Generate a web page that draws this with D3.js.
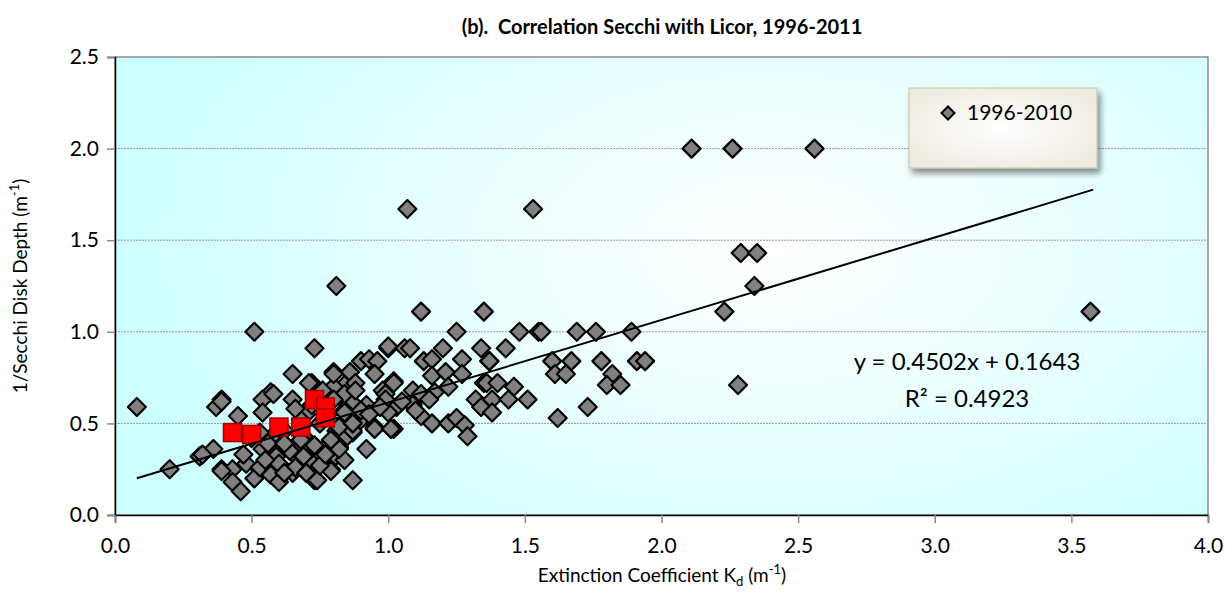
<!DOCTYPE html>
<html>
<head>
<meta charset="utf-8">
<script src="https://cdn.jsdelivr.net/npm/d3@7"></script>
<style>
  body { margin: 0; background: #fff; }
  svg { font-family: Lato, 'Open Sans', sans-serif; }
</style>
</head>
<body>
<svg id="chart"></svg>
<script>
// Kd (x) and 1/Secchi (y) for 1996-2010
const kd = [
  0.51, 0.08, 0.73, 0.65, 0.72, 0.57, 0.54, 0.65, 0.39, 0.37, 0.39, 0.54, 0.45, 0.31, 0.36, 0.20,
  0.48, 0.39, 0.43, 0.43, 0.46, 0.53, 0.57, 0.60, 0.65, 0.65, 0.62, 0.68, 0.73, 0.54, 0.57, 0.51,
  0.69, 0.73, 0.57, 0.62,
  0.81, 1.12, 1.35, 1.25, 1.00, 1.06, 1.08, 1.20, 1.34, 0.90, 0.93, 0.96, 1.13, 1.16, 1.27, 1.37,
  0.80, 0.86, 0.95, 1.16, 1.21, 1.27, 1.02, 1.35, 0.84, 0.88, 0.98, 1.09, 0.82, 0.99, 1.12, 1.17,
  1.22, 1.32, 1.38, 0.87, 0.92, 1.03, 1.09, 1.15, 1.34, 1.38, 0.84, 1.00, 1.12, 1.16, 1.22, 1.25,
  1.28, 1.29, 0.95, 1.02, 0.87, 0.92, 0.82, 0.78, 0.74, 0.80, 0.87, 0.74, 0.71, 0.84, 0.79, 0.86,
  0.90, 0.81, 0.80, 0.76,
  1.48, 1.55, 1.56, 1.69, 1.76, 1.89, 1.43, 1.37, 1.60, 1.67, 1.78, 1.91, 1.94, 1.61, 1.65, 1.82,
  1.80, 1.85, 1.36, 1.40, 1.46, 1.44, 1.51, 1.73, 1.62,
  2.29, 2.35, 2.34, 2.23, 2.28, 2.11, 2.26, 1.07, 1.53, 2.56, 3.57,
  0.39, 0.53, 0.79, 0.82, 0.69, 0.64, 0.59, 0.56, 0.62, 0.68, 0.79, 0.85, 0.95, 1.01, 0.87, 0.82,
  0.73, 0.53, 0.32, 0.58, 0.71, 0.80, 1.00, 0.84, 0.88, 0.90, 1.02, 0.99, 0.84, 0.87, 0.80,
  0.60, 0.66, 0.70, 0.75, 0.77, 0.62, 0.55, 0.47, 0.50, 0.70, 0.75, 0.78, 0.72, 0.68, 0.66, 0.93,
  0.97, 1.05, 1.10
]
const invSecchi = [
  1.00, 0.59, 0.91, 0.77, 0.72, 0.67, 0.63, 0.63, 0.63, 0.59, 0.62, 0.56, 0.54, 0.32, 0.36, 0.25,
  0.28, 0.25, 0.25, 0.18, 0.13, 0.25, 0.22, 0.18, 0.23, 0.34, 0.38, 0.37, 0.19, 0.36, 0.32, 0.20,
  0.43, 0.32, 0.42, 0.46,
  1.25, 1.11, 1.11, 1.00, 0.91, 0.91, 0.91, 0.91, 0.91, 0.84, 0.85, 0.84, 0.84, 0.85, 0.85, 0.84,
  0.78, 0.78, 0.77, 0.76, 0.78, 0.77, 0.73, 0.72, 0.71, 0.72, 0.68, 0.68, 0.65, 0.66, 0.66, 0.67,
  0.70, 0.63, 0.63, 0.61, 0.60, 0.59, 0.60, 0.63, 0.59, 0.56, 0.57, 0.56, 0.54, 0.50, 0.50, 0.53,
  0.49, 0.43, 0.48, 0.47, 0.45, 0.36, 0.37, 0.38, 0.34, 0.31, 0.19, 0.19, 0.30, 0.30, 0.25, 0.50,
  0.52, 0.46, 0.70, 0.68,
  1.00, 1.00, 1.00, 1.00, 1.00, 1.00, 0.91, 0.84, 0.84, 0.84, 0.84, 0.84, 0.84, 0.77, 0.77, 0.77,
  0.71, 0.71, 0.72, 0.72, 0.70, 0.63, 0.63, 0.59, 0.53,
  1.43, 1.43, 1.25, 1.11, 0.71, 2.00, 2.00, 1.67, 1.67, 2.00, 1.11,
  0.24, 0.26, 0.24, 0.36, 0.32, 0.35, 0.32, 0.39, 0.39, 0.41, 0.41, 0.43, 0.47, 0.47, 0.46, 0.48,
  0.38, 0.45, 0.33, 0.66, 0.72, 0.77, 0.92, 0.66, 0.68, 0.57, 0.72, 0.63, 0.56, 0.50, 0.63,
  0.28, 0.26, 0.23, 0.27, 0.33, 0.23, 0.30, 0.33, 0.42, 0.55, 0.50, 0.55, 0.60, 0.52, 0.58, 0.55,
  0.59, 0.62, 0.57
]
// 2011 points (red squares)
const kd2011 = [0.43, 0.50, 0.60, 0.68, 0.73, 0.77, 0.77]
const invSecchi2011 = [0.45, 0.44, 0.48, 0.48, 0.63, 0.59, 0.53]

const slope = 0.4502
const intercept = 0.1643
const fitRange = [0.08, 3.58]

const xTicks = [0, 0.5, 1, 1.5, 2, 2.5, 3, 3.5, 4]
const yTicks = [0, 0.5, 1, 1.5, 2, 2.5]

const margin = { top: 57, left: 115, right: 17, bottom: 78 }
const W = 1225
const H = 593
const width = W - margin.left - margin.right
const height = H - margin.top - margin.bottom

const root = d3.select('#chart').attr('width', W).attr('height', H)
const defs = root.append('defs')

const bg = defs.append('radialGradient')
  .attr('id', 'bgGrad')
  .attr('cx', 0.6).attr('cy', 0.42).attr('r', 0.62)
  .attr('gradientTransform', 'translate(0.6,0.42) scale(1,1.4) translate(-0.6,-0.42)')
bg.append('stop').attr('offset', 0).attr('stop-color', '#ffffff')
bg.append('stop').attr('offset', 0.3).attr('stop-color', '#f2ffff')
bg.append('stop').attr('offset', 1).attr('stop-color', '#ccffff')

const lg = defs.append('radialGradient').attr('id', 'legGrad').attr('cx', 0.5).attr('cy', 0.5).attr('r', 0.7)
lg.append('stop').attr('offset', 0).attr('stop-color', '#ffffff')
lg.append('stop').attr('offset', 1).attr('stop-color', '#ece8dc')

const shadow = defs.append('filter').attr('id', 'shadow').attr('x', -0.2).attr('y', -0.2).attr('width', 1.4).attr('height', 1.5)
shadow.append('feGaussianBlur').attr('in', 'SourceAlpha').attr('stdDeviation', 3)
shadow.append('feOffset').attr('dx', 3).attr('dy', 5).attr('result', 'blur')
shadow.append('feComponentTransfer').append('feFuncA').attr('type', 'linear').attr('slope', 0.45)
const merge = shadow.append('feMerge')
merge.append('feMergeNode')
merge.append('feMergeNode').attr('in', 'SourceGraphic')

const svg = root.append('g').attr('transform', `translate(${margin.left},${margin.top})`)

const x = d3.scaleLinear().domain([0, 4]).range([0, width])
const y = d3.scaleLinear().domain([0, 2.5]).range([height, 0])

// plot area
svg.append('rect')
  .attr('width', width).attr('height', height)
  .attr('fill', 'url(#bgGrad)')
  .attr('stroke', '#555').attr('stroke-width', 1)

// gridlines
svg.append('g')
  .selectAll('line')
  .data(yTicks.filter(d => d > 0 && d < 2.5))
  .join('line')
  .attr('x1', 0).attr('x2', width)
  .attr('y1', d => y(d)).attr('y2', d => y(d))
  .attr('stroke', '#999').attr('stroke-width', 1).attr('stroke-dasharray', '2,1')

// axes
const yAxis = svg.append('g')
  .call(d3.axisLeft(y).tickValues(yTicks).tickFormat(d3.format('.1f')).tickSize(8).tickPadding(8))
const xAxis = svg.append('g')
  .attr('transform', `translate(0,${height})`)
  .call(d3.axisBottom(x).tickValues(xTicks).tickFormat(d3.format('.1f')).tickSize(8).tickPadding(15))
;[xAxis, yAxis].forEach(a => {
  a.select('.domain').attr('stroke', '#000').attr('stroke-width', 1.5)
  a.selectAll('.tick line').attr('stroke', '#888').attr('stroke-width', 1.5)
  a.selectAll('.tick text').attr('font-size', 21).attr('font-family', 'Lato').attr('fill', '#000')
})

// 1996-2010 diamonds
const pts = kd.map((k, i) => ({ x: k, y: invSecchi[i] }))
const diamond = r => `M0,${-r}L${r},0L0,${r}L${-r},0Z`
svg.append('g')
  .selectAll('path')
  .data(pts)
  .join('path')
  .attr('d', diamond(9))
  .attr('transform', d => `translate(${x(d.x)},${y(d.y)})`)
  .attr('fill', '#808080')
  .attr('stroke', '#000')
  .attr('stroke-width', 2.2)
  .attr('stroke-linejoin', 'round')

// 2011 squares
const pts11 = kd2011.map((k, i) => ({ x: k, y: invSecchi2011[i] }))
svg.append('g')
  .selectAll('rect')
  .data(pts11)
  .join('rect')
  .attr('x', d => x(d.x) - 9).attr('y', d => y(d.y) - 9)
  .attr('width', 18).attr('height', 18)
  .attr('fill', '#ff0000')
  .attr('stroke', '#a00000')
  .attr('stroke-width', 1.5)

// trend line
svg.append('path')
  .datum(fitRange.map(v => ({ x: v, y: slope * v + intercept })))
  .attr('d', d3.line().x(d => x(d.x)).y(d => y(d.y)))
  .attr('stroke', '#000').attr('stroke-width', 2).attr('fill', 'none')

// equation
const eq = svg.append('text').attr('text-anchor', 'middle').attr('font-size', 24).attr('fill', '#000')
eq.append('tspan').attr('x', 852).attr('y', 313).text('y = 0.4502x + 0.1643')
eq.append('tspan').attr('x', 852).attr('y', 350).text('R² = 0.4923')

// legend
const leg = svg.append('g').attr('transform', 'translate(794,31)')
leg.append('rect')
  .attr('width', 188).attr('height', 80)
  .attr('fill', 'url(#legGrad)').attr('stroke', '#c9c2a6').attr('stroke-width', 1)
  .attr('filter', 'url(#shadow)')
leg.append('path').attr('d', diamond(6.5)).attr('transform', 'translate(39,25)')
  .attr('fill', '#808080').attr('stroke', '#000').attr('stroke-width', 2)
leg.append('text').attr('x', 58).attr('y', 32).attr('font-size', 21).text('1996-2010')

// titles
root.append('text')
  .attr('x', 662).attr('y', 34)
  .attr('text-anchor', 'middle').attr('font-size', 20).attr('font-weight', 'bold')
  .style('white-space', 'pre')
  .text('(b).  Correlation Secchi with Licor, 1996-2011')

const xl = root.append('text').attr('x', 662).attr('y', 582).attr('text-anchor', 'middle').attr('font-size', 19)
xl.append('tspan').text('Extinction Coefficient K')
xl.append('tspan').attr('font-size', 13).attr('dy', 4).text('d')
xl.append('tspan').attr('dy', -4).text(' (m')
xl.append('tspan').attr('font-size', 13).attr('dy', -8).text('-1')
xl.append('tspan').attr('dy', 8).text(')')

const yl = root.append('text').attr('transform', 'translate(27,286) rotate(-90)').attr('text-anchor', 'middle').attr('font-size', 19)
yl.append('tspan').text('1/Secchi Disk Depth (m')
yl.append('tspan').attr('font-size', 13).attr('dy', -8).text('-1')
yl.append('tspan').attr('dy', 8).text(')')
</script>
</body>
</html>
